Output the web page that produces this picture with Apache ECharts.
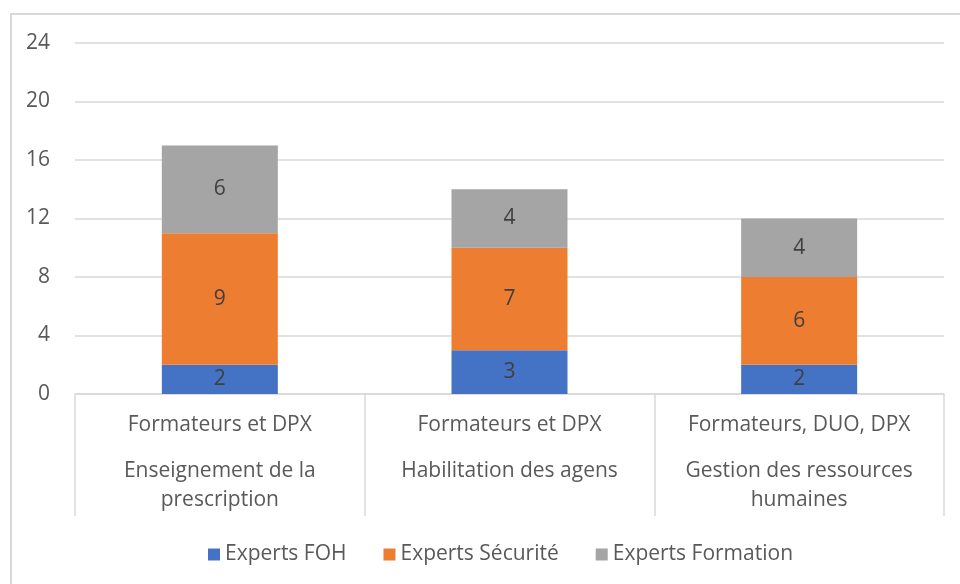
<!DOCTYPE html>
<html>
<head>
<meta charset="utf-8">
<script src="https://cdn.jsdelivr.net/npm/echarts@6/dist/echarts.min.js"></script>
<style>
  html, body { margin: 0; padding: 0; background: #fff; }
  #chart { width: 960px; height: 584px; }
</style>
</head>
<body>
<div id="chart"></div>
<script>
// données
var groupes = ['Formateurs et DPX', 'Formateurs et DPX', 'Formateurs, DUO, DPX'];
var themes = ['Enseignement de la\nprescription', 'Habilitation des agens', 'Gestion des ressources\nhumaines'];
var expertsFOH = [2, 3, 2];
var expertsSecurite = [9, 7, 6];
var expertsFormation = [6, 4, 4];
var yTicks = [0, 4, 8, 12, 16, 20, 24];

var couleurs = ['#4472C4', '#ED7D31', '#A5A5A5'];
var police = 'Open Sans';
var taille = 21;

var myChart = echarts.init(document.getElementById('chart'));

function serie(nom, data, idx) {
  return {
    name: nom,
    type: 'bar',
    stack: 'total',
    barWidth: 116,
    data: data,
    itemStyle: { color: couleurs[idx] },
    label: {
      show: true,
      position: 'inside',
      color: '#404040',
      fontSize: taille,
      fontFamily: police
    }
  };
}

var option = {
  animation: false,
  textStyle: { fontFamily: police },
  graphic: [{
    type: 'rect',
    shape: { x: 11, y: 14, width: 1000, height: 1000 },
    style: { fill: 'none', stroke: '#d9d9d9', lineWidth: 2 },
    silent: true
  }],
  grid: { left: 75, right: 16, top: 43, bottom: 190 },
  legend: {
    top: 539,
    left: 203,
    itemWidth: 12,
    itemHeight: 12,
    itemGap: 37,
    icon: 'rect',
    textStyle: { color: '#595959', fontSize: taille, fontFamily: police },
    data: ['Experts FOH', 'Experts Sécurité', 'Experts Formation']
  },
  xAxis: {
    type: 'category',
    data: groupes.map(function (g, i) { return i; }),
    axisLine: { lineStyle: { color: '#d9d9d9', width: 1.5 } },
    axisTick: { show: true, interval: 0, length: 122, lineStyle: { color: '#d9d9d9', width: 1.5 } },
    axisLabel: {
      interval: 0,
      margin: 0,
      formatter: function (v) {
        var i = +v;
        var lignes = themes[i].split('\n').map(function (t) { return '{b|' + t + '}'; });
        return '{a|' + groupes[i] + '}\n' + lignes.join('\n');
      },
      rich: {
        a: { fontSize: taille, lineHeight: 63, color: '#595959', fontFamily: police },
        b: { fontSize: taille, lineHeight: 29, color: '#595959', fontFamily: police }
      }
    }
  },
  yAxis: {
    type: 'value',
    min: yTicks[0],
    max: yTicks[yTicks.length - 1],
    interval: 4,
    axisLine: { show: false },
    axisTick: { show: false },
    axisLabel: { color: '#595959', fontSize: taille, margin: 25, fontFamily: police },
    splitLine: { lineStyle: { color: '#d9d9d9', width: 1.5 } }
  },
  series: [
    serie('Experts FOH', expertsFOH, 0),
    serie('Experts Sécurité', expertsSecurite, 1),
    serie('Experts Formation', expertsFormation, 2)
  ]
};

myChart.setOption(option);
</script>
</body>
</html>
